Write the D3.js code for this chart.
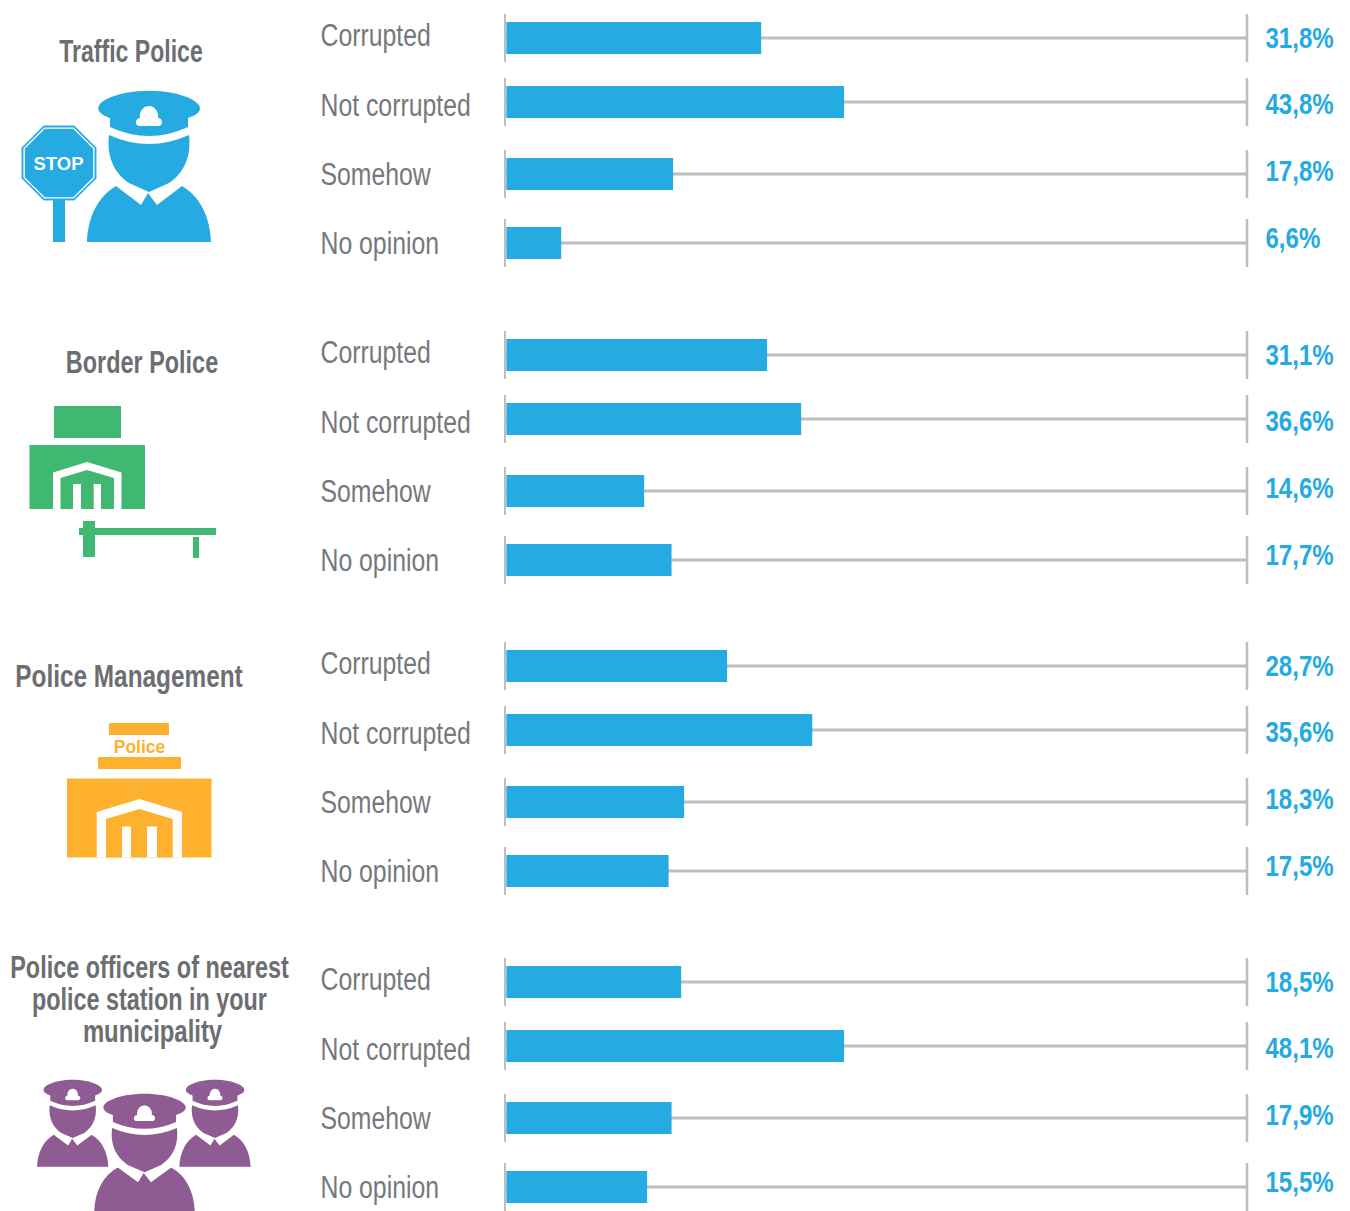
<!DOCTYPE html>
<html>
<head>
<meta charset="utf-8">
<script src="https://d3js.org/d3.v7.min.js"></script>
<style>
  html, body { margin: 0; padding: 0; background: #fff; }
  text { font-family: "Liberation Sans", Arial, sans-serif; }
</style>
</head>
<body>
<div id="chart"></div>
<script>
// Data
var answers = ["Corrupted", "Not corrupted", "Somehow", "No opinion"];
var groupNames = ["Traffic Police", "Border Police", "Police Management", "Nearest station"];

// Percentages as printed next to each bar
var trafficLabels = ["31,8%", "43,8%", "17,8%", "6,6%"];
var borderLabels = ["31,1%", "36,6%", "14,6%", "17,7%"];
var managementLabels = ["28,7%", "35,6%", "18,3%", "17,5%"];
var nearestLabels = ["18,5%", "48,1%", "17,9%", "15,5%"];

// Bar lengths as share of the track.
// The source bars are not proportional to their printed labels, so they are kept apart.
var trafficBars = [34.4, 45.6, 22.5, 7.4];
var borderBars = [35.2, 39.8, 18.6, 22.3];
var managementBars = [29.8, 41.3, 24.0, 21.9];
var nearestBars = [23.6, 45.6, 22.3, 19.0];

var allLabels = [trafficLabels, borderLabels, managementLabels, nearestLabels];
var allBars = [trafficBars, borderBars, managementBars, nearestBars];

// Set up chart
var svgWidth = 1350;
var svgHeight = 1211;

var blue = "#25aae1";
var green = "#41b871";
var orange = "#fdb12f";
var purple = "#8e5b93";
var gray = "#6d6e71";
var track = "#bcbec0";

var svg = d3.select("#chart")
  .append("svg")
  .attr("width", svgWidth)
  .attr("height", svgHeight)
  .style("display", "block");

// Scales
var x = d3.scaleLinear().domain([0, 100]).range([506.4, 1247]);
var groupY = d3.scaleOrdinal().domain(groupNames).range([38, 355, 666, 982]);
var rowY = d3.scaleOrdinal().domain(answers).range([0, 64, 136, 205]);
var labelDy = d3.scaleOrdinal().domain(answers).range([8, 14, 11, 11]);
var valueDy = d3.scaleOrdinal().domain(answers).range([10, 11.5, 7, 4.8]);

// Bars, one group per police body
groupNames.forEach(function(name, g) {
  var rows = answers.map(function(answer, i) {
    return { answer: answer, bar: allBars[g][i], label: allLabels[g][i] };
  });

  var row = svg.append("g")
    .selectAll("g")
    .data(rows)
    .enter()
    .append("g")
    .attr("transform", d => `translate(0, ${groupY(name) + rowY(d.answer)})`);

  row.append("line")
    .attr("x1", x(0)).attr("x2", x(100))
    .attr("stroke", track).attr("stroke-width", 3);

  row.append("line")
    .attr("x1", 505).attr("x2", 505)
    .attr("y1", -24).attr("y2", 24)
    .attr("stroke", track).attr("stroke-width", 2);

  row.append("line")
    .attr("x1", x(100)).attr("x2", x(100))
    .attr("y1", -24).attr("y2", 24)
    .attr("stroke", track).attr("stroke-width", 2.5);

  row.append("rect")
    .attr("x", x(0))
    .attr("y", -16)
    .attr("width", d => x(d.bar) - x(0))
    .attr("height", 32)
    .attr("fill", blue);

  row.append("text")
    .attr("transform", d => `translate(320.5, ${labelDy(d.answer)}) scale(0.8, 1)`)
    .attr("font-size", 31)
    .attr("fill", "#77787b")
    .text(d => d.answer);

  row.append("text")
    .attr("transform", d => `translate(1265.5, ${valueDy(d.answer)}) scale(0.83, 1)`)
    .attr("font-size", 29)
    .attr("font-weight", "bold")
    .attr("fill", blue)
    .text(d => d.label);
});

// Titles on the left
function title(str, cx, y, squeeze) {
  svg.append("text")
    .attr("transform", `translate(${cx}, ${y}) scale(${squeeze}, 1)`)
    .attr("text-anchor", "middle")
    .attr("font-size", 31)
    .attr("font-weight", "bold")
    .attr("fill", gray)
    .text(str);
}
title("Traffic Police", 131, 62, 0.744);
title("Border Police", 142, 373, 0.756);
title("Police Management", 129, 687, 0.786);
title("Police officers of nearest", 149.5, 978, 0.756);
title("police station in your", 149.5, 1010, 0.754);
title("municipality", 152.5, 1042, 0.77);

// Icons
function officer(parent, color) {
  var o = parent.append("g").attr("fill", color);
  // cap
  o.append("path").attr("d", "M110,118 C92,112 98,103 107,99 C128,88 170,88 191,99 C201,104 206,112 188,118 V127 Q149,145 110,127 Z");
  // badge
  o.append("path").attr("fill", "#fff").attr("d", "M140,126 C134,126 135,118 140,118 C139,112 143,106 149,106 C155,106 159,112 158,118 C163,118 164,126 158,126 Z");
  // face
  o.append("path").attr("d", "M109,135 Q149,153 189,135 C192,160 181,175 169,183 L149,192 L129,183 C117,175 106,160 109,135 Z");
  // shoulders
  o.append("path").attr("d", "M87,242 C88,215 99,196 116,186 L141,205 L148,193 L157,205 L182,186 C199,196 210,215 211,242 Z");
  return o;
}

function building(parent, color, b) {
  var g = parent.append("g");
  g.append("rect").attr("x", b.x0).attr("y", b.top).attr("width", b.x1 - b.x0).attr("height", b.bottom - b.top).attr("fill", color);
  g.append("path").attr("fill", "#fff")
    .attr("d", `M${b.dx0},${b.bottom} V${b.dy} L${b.cx},${b.apex} L${b.dx1},${b.dy} V${b.bottom} Z`);
  g.append("path").attr("fill", color)
    .attr("d", `M${b.ix0},${b.bottom} V${b.iy} L${b.cx},${b.iapex} L${b.ix1},${b.iy} V${b.bottom} Z`);
  b.bars.forEach(function(p) {
    g.append("rect").attr("x", p[0]).attr("y", b.barTop).attr("width", p[1] - p[0]).attr("height", b.bottom - b.barTop).attr("fill", "#fff");
  });
}

// Traffic police icon
var octagon = d3.range(8).map(function(i) {
  var a = Math.PI / 8 + i * Math.PI / 4;
  return [Math.cos(a), Math.sin(a)];
});
function octPath(r) {
  return "M" + octagon.map(p => [59 + p[0] * r, 163 + p[1] * r].join(",")).join("L") + "Z";
}
var stop = svg.append("g");
stop.append("rect").attr("x", 53).attr("y", 198).attr("width", 12).attr("height", 44).attr("fill", blue);
stop.append("path").attr("d", octPath(40)).attr("fill", blue).attr("stroke", blue).attr("stroke-linejoin", "round");
stop.append("path").attr("d", octPath(38.5)).attr("fill", "#fff");
stop.append("path").attr("d", octPath(37)).attr("fill", blue);
stop.append("text")
  .attr("x", 58.5).attr("y", 169.5)
  .attr("text-anchor", "middle")
  .attr("font-size", 18.5)
  .attr("font-weight", "bold")
  .attr("fill", "#fff")
  .text("STOP");
officer(svg, blue);

// Border police icon
svg.append("rect").attr("x", 54).attr("y", 406).attr("width", 67).attr("height", 32).attr("fill", green);
building(svg, green, {
  x0: 29.5, x1: 145, top: 445, bottom: 509,
  dx0: 53, dx1: 121.5, dy: 472.5, cx: 87, apex: 462,
  ix0: 60.5, ix1: 114, iy: 478, iapex: 470,
  bars: [[73, 81], [93.7, 101]], barTop: 484
});
svg.append("rect").attr("x", 79).attr("y", 528).attr("width", 137).attr("height", 7).attr("fill", green);
svg.append("rect").attr("x", 83).attr("y", 521).attr("width", 12).attr("height", 36).attr("fill", green);
svg.append("rect").attr("x", 193).attr("y", 537).attr("width", 6).attr("height", 21).attr("fill", green);

// Police management icon
svg.append("rect").attr("x", 109).attr("y", 723).attr("width", 60).attr("height", 12).attr("fill", orange);
svg.append("text")
  .attr("x", 139.5).attr("y", 753)
  .attr("text-anchor", "middle")
  .attr("font-size", 17.5)
  .attr("font-weight", "bold")
  .attr("fill", orange)
  .text("Police");
svg.append("rect").attr("x", 98).attr("y", 757).attr("width", 83).attr("height", 12).attr("fill", orange);
building(svg, orange, {
  x0: 67, x1: 211.5, top: 778.5, bottom: 857.5,
  dx0: 96.7, dx1: 182, dy: 812, cx: 139.5, apex: 799,
  ix0: 106, ix1: 172.7, iy: 819, iapex: 809,
  bars: [[122, 131], [147, 157]], barTop: 826.5
});

// Nearest station icon, three officers
officer(svg, purple).attr("transform", "translate(72.7, 1080) scale(0.575) translate(-149, -91)");
officer(svg, purple).attr("transform", "translate(215, 1080) scale(0.575) translate(-149, -91)");
officer(svg, purple).attr("transform", "translate(144.5, 1094) scale(0.81, 0.775) translate(-149, -91)");
</script>
</body>
</html>
